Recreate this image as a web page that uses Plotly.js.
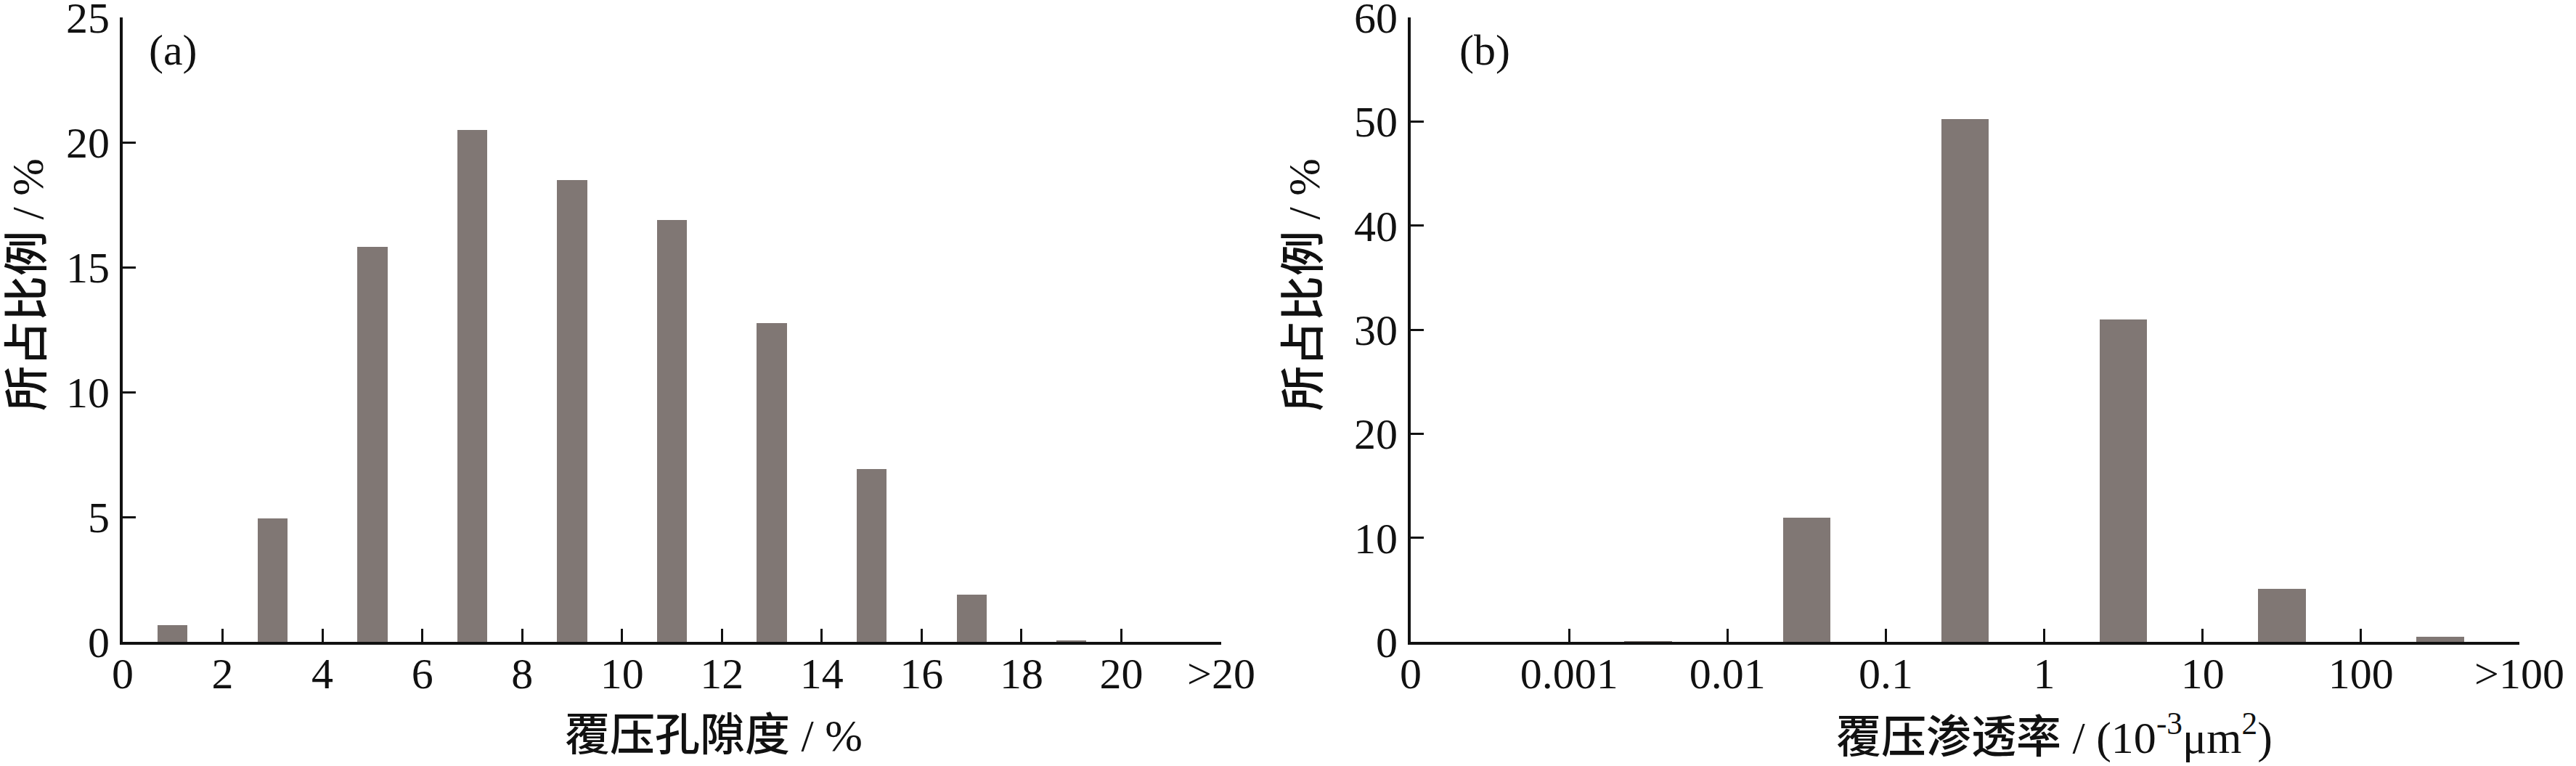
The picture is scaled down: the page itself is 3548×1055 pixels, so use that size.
<!DOCTYPE html>
<html>
<head>
<meta charset="utf-8">
<script src="https://cdn.plot.ly/plotly-3.0.1.min.js"></script>
<style>
  html, body { margin: 0; padding: 0; background: #ffffff; }
  #chart { width: 3548px; height: 1055px; }
</style>
</head>
<body>
<div id="chart"></div>
<script>
// ---------- data ----------
// (a) 覆压孔隙度 bins (%)
const porosityBins = ['0-2', '2-4', '4-6', '6-8', '8-10', '10-12', '12-14', '14-16', '16-18', '18-20', '>20'];
const porosityShare = [0.67, 4.95, 15.8, 20.5, 18.5, 16.9, 12.75, 6.92, 1.9, 0.05, 0];
const porosityTicks = ['0', '2', '4', '6', '8', '10', '12', '14', '16', '18', '20', '>20'];

// (b) 覆压渗透率 bins (10^-3 μm^2)
const permBins = ['0-0.001', '0.001-0.01', '0.01-0.1', '0.1-1', '1-10', '10-100', '>100'];
const permShare = [0, 0.05, 11.9, 50.2, 31.0, 5.1, 0.5];
const permTicks = ['0', '0.001', '0.01', '0.1', '1', '10', '100', '>100'];

// ---------- styling ----------
const W = 3548, H = 1055;
const barColor = '#807774';
const numFont = 'Liberation Serif, Times New Roman, serif';
const mixFont = 'Liberation Serif, Noto Sans CJK SC, serif';
const fs = 60;

const px = v => v / W;
const py = v => (H - v) / H;

const traceA = {
  type: 'bar',
  x: porosityBins.map((_, i) => i + 0.5),
  y: porosityShare,
  customdata: porosityBins,
  width: 0.3,
  marker: { color: barColor, line: { width: 0 } },
  xaxis: 'x', yaxis: 'y',
  hovertemplate: '%{customdata}: %{y}%<extra></extra>',
  showlegend: false
};
const traceB = {
  type: 'bar',
  x: permBins.map((_, i) => i + 0.5),
  y: permShare,
  customdata: permBins,
  width: 0.3,
  marker: { color: barColor, line: { width: 0 } },
  xaxis: 'x2', yaxis: 'y2',
  hovertemplate: '%{customdata}: %{y}%<extra></extra>',
  showlegend: false
};

const axisCommon = {
  showline: true, linecolor: '#111111', linewidth: 4,
  ticks: 'inside', ticklen: 18, tickwidth: 3, tickcolor: '#111111',
  showgrid: false, zeroline: false, mirror: false,
  tickfont: { family: numFont, size: fs, color: '#111111' },
  ticklabeloverflow: 'allow',
  fixedrange: true
};

const yDomain = [py(884), py(24)];

const layout = {
  width: W, height: H,
  margin: { l: 0, r: 0, t: 0, b: 0, pad: 0 },
  paper_bgcolor: '#ffffff', plot_bgcolor: '#ffffff',
  bargap: 0,
  xaxis: Object.assign({}, axisCommon, {
    domain: [px(169), px(1682)], range: [0, porosityTicks.length - 1],
    tickmode: 'array', tickvals: porosityTicks.map((_, i) => i), ticktext: porosityTicks,
    anchor: 'y', ticklabelstandoff: -12
  }),
  yaxis: Object.assign({}, axisCommon, {
    domain: yDomain, range: [0, 25], tickmode: 'linear', tick0: 0, dtick: 5,
    anchor: 'x', ticklabelstandoff: 2
  }),
  xaxis2: Object.assign({}, axisCommon, {
    domain: [px(1943), px(3470)], range: [0, permTicks.length - 1],
    tickmode: 'array', tickvals: permTicks.map((_, i) => i), ticktext: permTicks,
    anchor: 'y2', ticklabelstandoff: -12
  }),
  yaxis2: Object.assign({}, axisCommon, {
    domain: yDomain, range: [0, 60], tickmode: 'linear', tick0: 0, dtick: 10,
    anchor: 'x2', ticklabelstandoff: 2
  }),
  annotations: [
    { text: '(a)', x: px(203), y: py(69), xref: 'paper', yref: 'paper', xanchor: 'left', yanchor: 'middle',
      showarrow: false, font: { family: numFont, size: fs, color: '#111111' } },
    { text: '(b)', x: px(2008), y: py(69), xref: 'paper', yref: 'paper', xanchor: 'left', yanchor: 'middle',
      showarrow: false, font: { family: numFont, size: fs, color: '#111111' } },
    { text: '所占比例 / %', x: px(38), y: py(392), xref: 'paper', yref: 'paper', xanchor: 'center', yanchor: 'middle',
      textangle: -90, showarrow: false, font: { family: mixFont, size: 62, color: '#111111', weight: 500 } },
    { text: '所占比例 / %', x: px(1796), y: py(392), xref: 'paper', yref: 'paper', xanchor: 'center', yanchor: 'middle',
      textangle: -90, showarrow: false, font: { family: mixFont, size: 62, color: '#111111', weight: 500 } },
    { text: '覆压孔隙度 / %', x: px(983), y: py(1013), xref: 'paper', yref: 'paper', xanchor: 'center', yanchor: 'middle',
      showarrow: false, font: { family: mixFont, size: 62, color: '#111111', weight: 500 } },
    { text: '覆压渗透率 / (10<sup>-3</sup>μm<sup>2</sup>)', x: px(2829), y: py(1011), xref: 'paper', yref: 'paper',
      xanchor: 'center', yanchor: 'middle',
      showarrow: false, font: { family: mixFont, size: 62, color: '#111111', weight: 500 } }
  ]
};

Plotly.newPlot('chart', [traceA, traceB], layout, { staticPlot: true, displayModeBar: false });
</script>
</body>
</html>
